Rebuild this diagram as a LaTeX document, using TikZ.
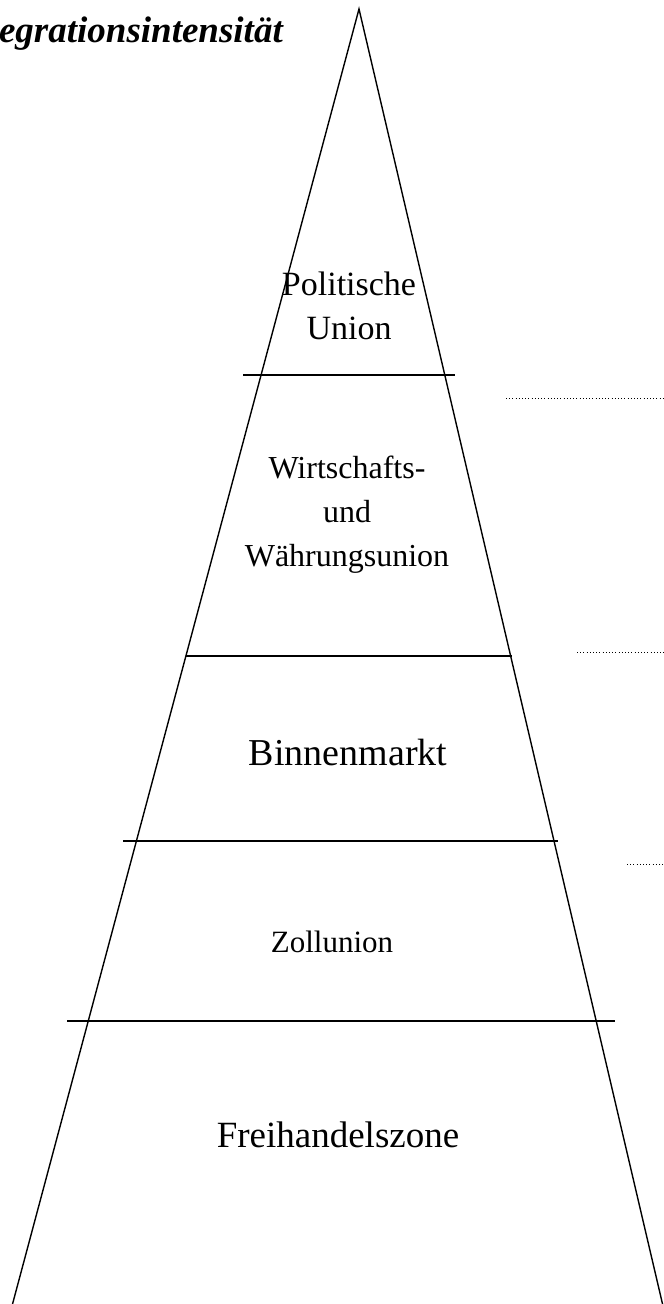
\documentclass[tikz,border=0pt]{standalone}
\usepackage{fontspec}
\setmainfont{Liberation Serif}
\tikzset{
  edge/.style={draw=black, line width=1.4pt},
  level/.style={draw=black, line width=1.4pt},
  dots/.style={draw=black, line width=1pt, dotted, dash pattern=on 0.8pt off 2.4pt},
  lbl/.style={align=center, inner sep=0pt},
  ttl/.style={font=\fontsize{37}{40}\selectfont\bfseries\itshape, inner sep=0pt}
}
\begin{document}
\begin{tikzpicture}[x=1pt,y=-1pt]
\useasboundingbox (0,0) rectangle (664,1304);
\clip (0,0) rectangle (664,1304);
% triangle
\coordinate (apex) at (359,9);
\coordinate (bl) at (12,1306);
\coordinate (br) at (663,1306);
\draw[edge] (bl) -- (apex) -- (br);
% level lines
\coordinate (l1a) at (243,375); \coordinate (l1b) at (455,375);
\coordinate (l2a) at (186,656); \coordinate (l2b) at (512,656);
\coordinate (l3a) at (123,841); \coordinate (l3b) at (558,841);
\coordinate (l4a) at (67,1021); \coordinate (l4b) at (615,1021);
\draw[level] (l1a) -- (l1b);
\draw[level] (l2a) -- (l2b);
\draw[level] (l3a) -- (l3b);
\draw[level] (l4a) -- (l4b);
% dotted lines
\coordinate (d1a) at (506,398); \coordinate (d1b) at (664,398);
\coordinate (d2a) at (577,652); \coordinate (d2b) at (664,652);
\coordinate (d3a) at (627,864); \coordinate (d3b) at (664,864);
\draw[dots] (d1a) -- (d1b);
\draw[dots] (d2a) -- (d2b);
\draw[dots] (d3a) -- (d3b);
% title
\node[ttl, anchor=base east] (title) at (283,42) {Integrationsintensität};
% labels
\node[lbl, font=\fontsize{34}{44}\selectfont] (pol) at (349,306) {Politische\\Union};
\node[lbl, font=\fontsize{32}{44}\selectfont] (wwu) at (347,515) {Wirtschafts-\\und\\Währungsunion};
\node[lbl, font=\fontsize{38}{44}\selectfont] (bin) at (348,752) {Binnenmarkt};
\node[lbl, font=\fontsize{31}{44}\selectfont] (zoll) at (332,942) {Zollunion};
\node[lbl, font=\fontsize{37}{44}\selectfont] (frei) at (338,1135) {Freihandelszone};
\end{tikzpicture}
\end{document}
